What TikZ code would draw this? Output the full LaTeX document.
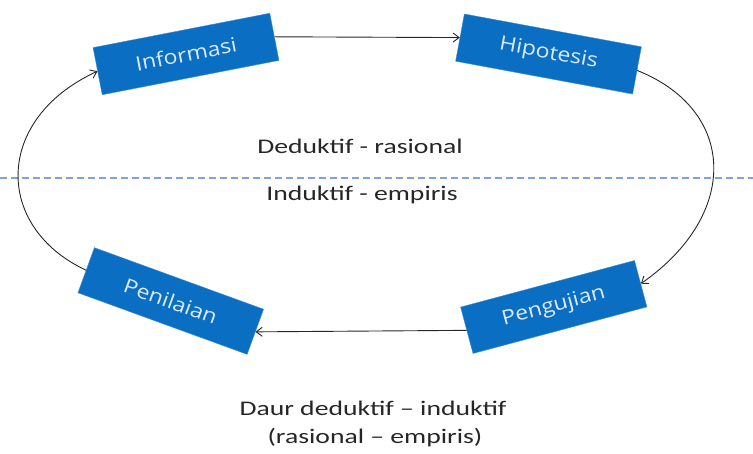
\documentclass[tikz,border=0pt]{standalone}
\usepackage{fontspec}
\setmainfont[FakeStretch=1.33]{Carlito}
\newfontfamily\boxfont[FakeStretch=1.15]{Open Sans}
\usetikzlibrary{arrows.meta}
\definecolor{boxblue}{HTML}{0A6EC2}
\definecolor{boxtext}{HTML}{DDEBF8}
\definecolor{divblue}{HTML}{7FA3D6}
\definecolor{labelgray}{HTML}{262626}

\begin{document}
\begin{tikzpicture}[
    x=1pt, y=-1pt,
    stage/.style={rectangle, fill=boxblue, draw=boxblue!80!white, line width=0.4pt,
        minimum width=180pt, minimum height=48pt, inner sep=0pt,
        text=boxtext, font=\boxfont\fontsize{20}{24}\selectfont},
    caption/.style={text=labelgray, font=\fontsize{20.8}{28}\selectfont, inner sep=0pt},
    divider/.style={divblue, line width=1.2pt, dash pattern=on 7pt off 4pt},
    arrow/.style={-{Straight Barb[length=6pt, width=9pt]}, line width=0.9pt, black!85},
]
    \useasboundingbox (0,0) rectangle (753,453);

    % deduktif / induktif split
    \draw[divider] (0,178) -- (753,178);

    % the four steps
    \node[stage, rotate=11] (inf) at (186,54) {Informasi};
    \node[stage, rotate=-10.5] (hip) at (548.5,54) {Hipotesis};
    \node[stage, rotate=15] (uji) at (553.75,307) {Pengujian};
    \node[stage, rotate=-20] (nil) at (170.75,301) {Penilaian};

    % cycle
    \draw[arrow] (inf.east) -- (hip.west);
    \draw[arrow] (hip.east) .. controls +(100,40) and +(99,-69) .. (uji.east);
    \draw[arrow] (uji.west) -- (nil.east);
    \draw[arrow] (nil.west) .. controls +(-92,-43) and +(-104,48) .. (inf.west);

    % labels
    \node[caption, anchor=base] (ded) at (360,153) {Deduktif - rasional};
    \node[caption, anchor=base] (ind) at (362,200) {Induktif - empiris};
    \node[caption, anchor=base] (daur) at (373,415) {Daur deduktif -- induktif};
    \node[caption, anchor=base] (daur2) at (375,443) {(rasional -- empiris)};
\end{tikzpicture}
\end{document}
